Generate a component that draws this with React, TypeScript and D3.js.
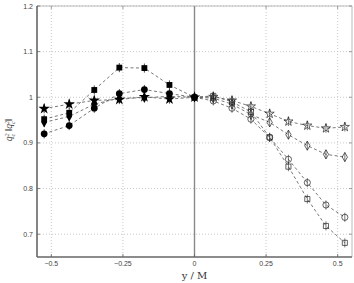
import React from "react";
import * as d3 from "d3";

// x positions: filled markers on the left half, open markers on the right half
const xLeft = [-0.525, -0.4375, -0.35, -0.2625, -0.175, -0.0875, 0];
const xRight = [0, 0.0656, 0.131, 0.197, 0.2625, 0.328, 0.394, 0.459, 0.525];

const squareLeft = [0.952, 0.966, 1.016, 1.065, 1.064, 1.027, 1.0];
const circleLeft = [0.92, 0.938, 0.976, 1.008, 1.017, 1.008, 1.0];
const starLeft = [0.975, 0.985, 0.993, 0.995, 1.001, 0.996, 1.0];
const diamondLeft = [0.945, 0.958, 0.985, 0.998, 0.999, 1.002, 1.0];

const squareRight = [1.0, 1.003, 0.99, 0.968, 0.912, 0.848, 0.777, 0.718, 0.681];
const circleRight = [1.0, 0.992, 0.976, 0.952, 0.912, 0.864, 0.813, 0.764, 0.737];
const starRight = [1.0, 1.001, 0.993, 0.98, 0.964, 0.947, 0.938, 0.932, 0.935];
const diamondRight = [1.0, 0.998, 0.985, 0.962, 0.945, 0.918, 0.894, 0.875, 0.869];

const errHalf = 0.01;

const xTicks = [-0.5, -0.25, 0, 0.25, 0.5];
const xTickLabels = ["\u22120.5", "\u22120.25", "0", "0.25", "0.5"];
const yTicks = [0.7, 0.8, 0.9, 1.0, 1.1, 1.2];
const yTickLabels = ["0.7", "0.8", "0.9", "1", "1.1", "1.2"];

const W = 354;
const H = 283;
const margin = { top: 6, right: 2, bottom: 26, left: 37 };

const series = [
  { left: squareLeft, right: squareRight, symbol: d3.symbolSquare, size: 34, openSize: 26 },
  { left: circleLeft, right: circleRight, symbol: d3.symbolCircle, size: 36, openSize: 30 },
  { left: diamondLeft, right: diamondRight, symbol: d3.symbolDiamond, size: 30, openSize: 24 },
  { left: starLeft, right: starRight, symbol: d3.symbolStar, size: 40, openSize: 26 },
];

export default function App() {
  const x = d3
    .scaleLinear()
    .domain([-0.55, 0.55])
    .range([margin.left, W - margin.right]);
  const y = d3
    .scaleLinear()
    .domain([0.65, 1.2])
    .range([H - margin.bottom, margin.top]);

  const line = d3
    .line<[number, number]>()
    .x((d) => x(d[0]))
    .y((d) => y(d[1]));

  const x0 = margin.left;
  const x1 = W - margin.right;
  const y0 = H - margin.bottom;
  const y1 = margin.top;

  return (
    <svg
      width={W}
      height={H}
      style={{ position: "absolute", left: 0, top: 0, background: "#fff" }}
      fontFamily="'Liberation Sans', Arial, sans-serif"
    >
      {/* grid */}
      {xTicks.map((t) => (
        <line
          key={"gx" + t}
          x1={x(t)}
          x2={x(t)}
          y1={y1}
          y2={y0}
          stroke="#bbb"
          strokeWidth={0.8}
          strokeDasharray="1,2"
        />
      ))}
      {yTicks.map((t) => (
        <line
          key={"gy" + t}
          x1={x0}
          x2={x1}
          y1={y(t)}
          y2={y(t)}
          stroke="#bbb"
          strokeWidth={0.8}
          strokeDasharray="1,2"
        />
      ))}

      {/* zero line */}
      <line x1={x(0)} x2={x(0)} y1={y1} y2={y0} stroke="#888" strokeWidth={1.4} />

      {/* box */}
      <line x1={x0} x2={x1} y1={y1} y2={y1} stroke="#aaa" strokeWidth={0.8} />
      <line x1={x1} x2={x1} y1={y1} y2={y0} stroke="#aaa" strokeWidth={0.8} />
      <line x1={x0} x2={x0} y1={y1} y2={y0} stroke="#666" strokeWidth={1.6} />
      <line x1={x0} x2={x1} y1={y0} y2={y0} stroke="#666" strokeWidth={1.6} />

      {/* ticks */}
      {yTicks.map((t, i) => (
        <g key={"ty" + t}>
          <line x1={x0} x2={x0 + 3} y1={y(t)} y2={y(t)} stroke="#666" strokeWidth={0.8} />
          <line x1={x1} x2={x1 - 3} y1={y(t)} y2={y(t)} stroke="#888" strokeWidth={0.8} />
          <text
            x={x0 - 4}
            y={y(t) + 2.5}
            textAnchor="end"
            fontSize={7}
            fill="#444"
          >
            {yTickLabels[i]}
          </text>
        </g>
      ))}
      {xTicks.map((t, i) => (
        <g key={"tx" + t}>
          <line x1={x(t)} x2={x(t)} y1={y0} y2={y0 - 3} stroke="#666" strokeWidth={0.8} />
          <line x1={x(t)} x2={x(t)} y1={y1} y2={y1 + 3} stroke="#888" strokeWidth={0.8} />
          <text x={x(t)} y={y0 + 9} textAnchor="middle" fontSize={7} fill="#444">
            {xTickLabels[i]}
          </text>
        </g>
      ))}

      {/* dashed series lines */}
      {series.map((s, i) => (
        <g key={"l" + i}>
          <path
            d={line(xLeft.map((v, j) => [v, s.left[j]]))!}
            fill="none"
            stroke="#555"
            strokeWidth={0.8}
            strokeDasharray="3,2.5"
          />
          <path
            d={line(xRight.map((v, j) => [v, s.right[j]]))!}
            fill="none"
            stroke="#555"
            strokeWidth={0.8}
            strokeDasharray="3,2.5"
          />
        </g>
      ))}

      {/* markers */}
      {series.map((s, i) => {
        const path = d3.symbol().type(s.symbol).size(s.size)()!;
        const openPath = d3.symbol().type(s.symbol).size(s.openSize)()!;
        return (
          <g key={"m" + i}>
            {xLeft.map((v, j) => (
              <g key={"ml" + j}>
                <line
                  x1={x(v)}
                  x2={x(v)}
                  y1={y(s.left[j] - errHalf)}
                  y2={y(s.left[j] + errHalf)}
                  stroke="#000"
                  strokeWidth={0.7}
                />
                <path
                  d={path}
                  transform={`translate(${x(v)},${y(s.left[j])})`}
                  fill="#000"
                />
              </g>
            ))}
            {xRight.slice(1).map((v, j) => (
              <g key={"mr" + j}>
                <path
                  d={openPath}
                  transform={`translate(${x(v)},${y(s.right[j + 1])})`}
                  fill="none"
                  stroke="#222"
                  strokeWidth={0.7}
                />
                <line
                  x1={x(v)}
                  x2={x(v)}
                  y1={y(s.right[j + 1] - errHalf)}
                  y2={y(s.right[j + 1] + errHalf)}
                  stroke="#222"
                  strokeWidth={0.6}
                />
              </g>
            ))}
          </g>
        );
      })}

      {/* axis labels */}
      <text
        x={x(0)}
        y={H - 4}
        textAnchor="middle"
        fontSize={10}
        fontFamily="'DejaVu Serif', 'Liberation Serif', serif"
        fill="#333"
      >
        y / M
      </text>
      <g transform={`translate(12,130) rotate(-90)`}>
        <text
          textAnchor="middle"
          fontSize={9.5}
          fontFamily="'Liberation Serif', serif"
          fontStyle="italic"
          fill="#333"
        >
          <tspan>q</tspan>
          <tspan dy={-3.5} fontSize={6}>2</tspan>
          <tspan dx={-3} dy={6} fontSize={6}>c</tspan>
          <tspan dy={-2.5} fontStyle="normal">{" \u2016"}</tspan>
          <tspan>q</tspan>
          <tspan dy={-3.5} fontSize={6}>2</tspan>
          <tspan dx={-3} dy={6} fontSize={6}>c</tspan>
          <tspan dy={-2.5} fontStyle="normal">{"\u2016"}</tspan>
        </text>
      </g>
    </svg>
  );
}
